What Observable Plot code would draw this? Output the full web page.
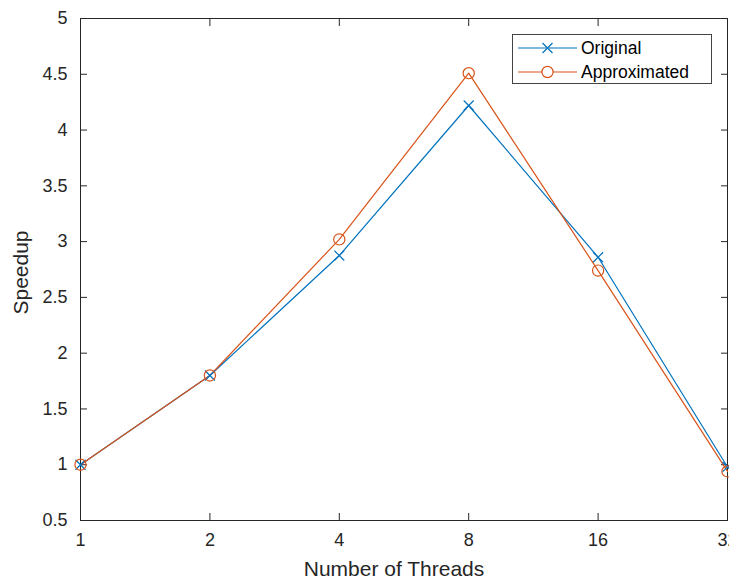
<!DOCTYPE html>
<html><head><meta charset="utf-8">
<script src="https://cdn.jsdelivr.net/npm/d3@7"></script>
<script src="https://cdn.jsdelivr.net/npm/@observablehq/plot@0.6"></script>
<style>
body{margin:0;background:#fff;overflow:hidden}
#wrap{position:relative;width:729px;height:578px;overflow:hidden}
.legend{position:absolute;left:512px;top:34px;width:198px;height:48px;border:1px solid #444;background:#fff;font-family:"Liberation Sans",Arial,Helvetica,sans-serif;font-size:17.5px;color:#000}
.legend .row{position:absolute;left:0;height:24px;display:flex;align-items:center}
.legend svg{display:block}
</style></head><body><div id="wrap"></div>
<script>
const threads = [1, 2, 4, 8, 16, 32];
const original = [1.00, 1.80, 2.875, 4.22, 2.86, 0.98];
const approximated = [1.00, 1.80, 3.02, 4.51, 2.74, 0.94];
const yTicks = [0.5, 1, 1.5, 2, 2.5, 3, 3.5, 4, 4.5, 5];
const seriesNames = ["Original", "Approximated"];
const seriesColors = ["#0072BD", "#D95319"];
const seriesSymbols = ["times", "circle"];
const xLabel = "Number of Threads";
const yLabel = "Speedup";

const rows = [];
[original, approximated].forEach((vals, s) => {
  threads.forEach((t, i) => rows.push({series: seriesNames[s], threads: t, speedup: vals[i]}));
});

const font = '"Liberation Sans", Arial, Helvetica, sans-serif';
const axisColor = "#262626";

const chart = Plot.plot({
  width: 729,
  height: 578,
  marginLeft: 80,
  marginRight: 2,
  marginTop: 18,
  marginBottom: 58,
  style: {fontFamily: font, fontSize: "18px", color: axisColor, background: "#fff"},
  x: {type: "log", base: 2, domain: [1, 32], ticks: threads},
  y: {domain: [0.5, 5], ticks: yTicks},
  marks: [
    Plot.frame({stroke: axisColor, strokeWidth: 1}),
    Plot.axisX({anchor: "bottom", ticks: threads, tickFormat: d => String(d), tickSize: -7, tickPadding: 20, label: xLabel, labelArrow: "none", labelAnchor: "center", labelOffset: 55, fontSize: 18}),
    Plot.axisX({anchor: "top", ticks: threads, tickFormat: () => "", tickSize: -7, label: null}),
    Plot.axisY({anchor: "left", ticks: yTicks, tickFormat: d => String(d), tickSize: -7, tickPadding: 20, label: yLabel, labelArrow: "none", labelAnchor: "center", labelOffset: 67, fontSize: 18}),
    Plot.axisY({anchor: "right", ticks: yTicks, tickFormat: () => "", tickSize: -7, label: null}),
    Plot.line(rows, {x: "threads", y: "speedup", z: "series", stroke: d => seriesColors[seriesNames.indexOf(d.series)], strokeWidth: 1.2}),
    Plot.dot(rows.filter(d => d.series === seriesNames[0]), {x: "threads", y: "speedup", symbol: seriesSymbols[0], r: 4.6, stroke: seriesColors[0], strokeWidth: 1.2}),
    Plot.dot(rows.filter(d => d.series === seriesNames[1]), {x: "threads", y: "speedup", symbol: seriesSymbols[1], r: 5.6, stroke: seriesColors[1], strokeWidth: 1.2, fill: "none"})
  ]
});

// axis labels: larger, and no arrows
chart.querySelectorAll("g[aria-label='x-axis label'] text, g[aria-label='y-axis label'] text").forEach(t => {
  t.setAttribute("font-size", "21");
  const txt = t.textContent;
  if (txt.includes(xLabel)) { t.textContent = xLabel; t.setAttribute("dx", "-10"); }
  else if (txt.includes(yLabel)) { t.textContent = yLabel; t.setAttribute("dx", "-3"); }
});

const wrap = document.getElementById("wrap");
wrap.appendChild(chart);

// legend (HTML overlay)
const legend = document.createElement("div");
legend.className = "legend";
seriesNames.forEach((name, i) => {
  const row = document.createElement("div");
  row.className = "row";
  row.style.top = (1 + i * 24) + "px";
  const ns = "http://www.w3.org/2000/svg";
  const svg = document.createElementNS(ns, "svg");
  svg.setAttribute("width", 66); svg.setAttribute("height", 24);
  const line = document.createElementNS(ns, "line");
  line.setAttribute("x1", 5); line.setAttribute("x2", 64); line.setAttribute("y1", 12); line.setAttribute("y2", 12);
  line.setAttribute("stroke", seriesColors[i]); line.setAttribute("stroke-width", 1.2);
  svg.appendChild(line);
  const path = document.createElementNS(ns, "path");
  const r = i === 0 ? 4.6 : 5.6;
  const sym = i === 0 ? d3.symbolTimes : d3.symbolCircle;
  path.setAttribute("d", d3.symbol(sym, Math.PI * r * r)());
  path.setAttribute("transform", "translate(34.5,12)");
  path.setAttribute("stroke", seriesColors[i]); path.setAttribute("stroke-width", 1.2);
  path.setAttribute("fill", i === 0 ? seriesColors[i] : "#fff");
  svg.appendChild(path);
  row.appendChild(svg);
  const span = document.createElement("span");
  span.textContent = name;
  span.style.marginLeft = "2px";
  row.appendChild(span);
  legend.appendChild(row);
});
wrap.appendChild(legend);
</script>
</body></html>
